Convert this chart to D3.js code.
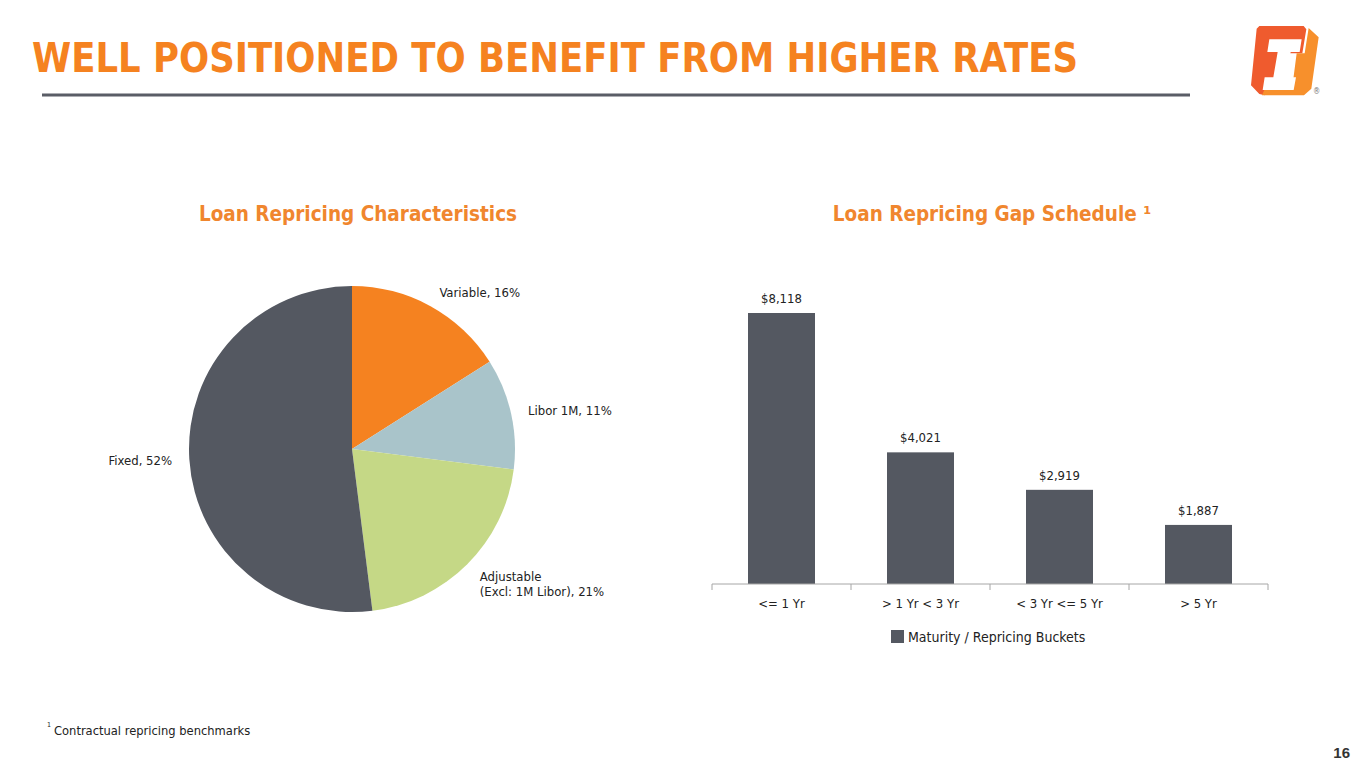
<!DOCTYPE html>
<html>
<head>
<meta charset="utf-8">
<script src="https://cdn.jsdelivr.net/npm/d3@7"></script>
<style>
  body { margin: 0; background: #fff; }
  text { font-family: "DejaVu Sans Condensed", "DejaVu Sans", sans-serif; }
</style>
</head>
<body>
<script>
// Canvas size
const width = 1365;
const height = 768;

// Pie data: loan repricing characteristics (percent)
const pieLabels = ["Variable, 16%", "Libor 1M, 11%", "Adjustable\n(Excl: 1M Libor), 21%", "Fixed, 52%"];
const pieValues = [16, 11, 21, 52];
const pieColors = ["#F58220", "#A9C4CA", "#C5D886", "#545861"];

// Bar data: loan repricing gap schedule ($M)
const barCategories = ["<= 1 Yr", "> 1 Yr < 3 Yr", "< 3 Yr <= 5 Yr", "> 5 Yr"];
const barValues = [8118, 4021, 2919, 1887];
const legendLabel = "Maturity / Repricing Buckets";

const orange = "#F58220";
const darkGray = "#545861";

const svg = d3.select("body")
  .append("svg")
  .attr("width", width)
  .attr("height", height);

// ---- header ----
svg.append("text")
  .attr("x", 32)
  .attr("y", 72)
  .attr("textLength", 1046)
  .attr("lengthAdjust", "spacingAndGlyphs")
  .attr("fill", orange)
  .style("font-size", "41px")
  .style("font-weight", "bold")
  .text("WELL POSITIONED TO BENEFIT FROM HIGHER RATES");

svg.append("line")
  .attr("x1", 42).attr("x2", 1190)
  .attr("y1", 95).attr("y2", 95)
  .attr("stroke", "#5A5D66")
  .attr("stroke-width", 3);

// logo (drawn in a 3x grid, then scaled down)
const logo = svg.append("g").attr("transform", "translate(1236,20) scale(0.3333)");
logo.append("path")
  .attr("fill", "#EF5B2E")
  .attr("d", "M70,18 L203,18 L211,28 L199,100 L160,100 L146,176 L96,176 L86,226 L70,222 L45,196 L62,26 Z");
logo.append("path")
  .attr("fill", "#F7902C")
  .attr("d", "M218,24 L248,52 L226,206 L204,226 L78,226 L86,208 L168,208 L182,100 L206,100 Z");
logo.append("path")
  .attr("fill", "#fff")
  .attr("d", "M100,58 L197,58 L191,96 L164,96 L151,172 L180,172 L173,210 L80,210 L86,172 L112,172 L125,96 L94,96 Z");
svg.append("text")
  .attr("x", 1313)
  .attr("y", 94)
  .attr("fill", "#777")
  .style("font-size", "8px")
  .text("®");

// ---- pie chart ----
const cx = 352, cy = 449, radius = 163;

svg.append("text")
  .attr("x", 358)
  .attr("y", 221)
  .attr("text-anchor", "middle")
  .attr("fill", "#F0862E")
  .style("font-size", "20.5px")
  .style("font-weight", "bold")
  .text("Loan Repricing Characteristics");

const pie = d3.pie().sort(null).value((d) => d.value);
const slices = pie(pieValues.map((v, i) => ({ value: v, label: pieLabels[i], color: pieColors[i] })));

const arc = d3.arc().innerRadius(0).outerRadius(radius);
const labelArc = d3.arc().innerRadius(radius * 1.1).outerRadius(radius * 1.1);

const pieG = svg.append("g").attr("transform", `translate(${cx},${cy})`);

pieG.selectAll("path")
  .data(slices)
  .enter()
  .append("path")
  .attr("d", arc)
  .attr("fill", (d) => d.data.color);

pieG.selectAll("text")
  .data(slices)
  .enter()
  .append("text")
  .each(function (d) {
    const [lx, ly] = labelArc.centroid(d);
    const mid = (d.startAngle + d.endAngle) / 2;
    const t = d3.select(this)
      .attr("text-anchor", mid < Math.PI ? "start" : "end")
      .attr("fill", "#222")
      .style("font-size", "13px");
    d.data.label.split("\n").forEach((line, i) => {
      t.append("tspan")
        .attr("x", lx + (mid < Math.PI ? 1 : -1))
        .attr("y", ly + 5 + i * 15)
        .text(line);
    });
  });

// ---- bar chart ----
const plotLeft = 712, plotRight = 1268, plotBottom = 584;

svg.append("text")
  .attr("x", 992)
  .attr("y", 221)
  .attr("text-anchor", "middle")
  .attr("fill", "#F0862E")
  .style("font-size", "20.5px")
  .style("font-weight", "bold")
  .text("Loan Repricing Gap Schedule \u00B9");

const x = d3.scaleBand()
  .domain(barCategories)
  .range([plotLeft, plotRight])
  .paddingInner(0.518)
  .paddingOuter(0.259);

const y = d3.scaleLinear()
  .domain([150, d3.max(barValues)])
  .range([plotBottom, 313]);

const bars = barCategories.map((c, i) => ({ cat: c, value: barValues[i] }));

svg.append("g")
  .selectAll("rect")
  .data(bars)
  .enter()
  .append("rect")
  .attr("x", (d) => x(d.cat))
  .attr("y", (d) => y(d.value))
  .attr("width", x.bandwidth())
  .attr("height", (d) => plotBottom - y(d.value))
  .attr("fill", darkGray);

svg.append("g")
  .selectAll("text")
  .data(bars)
  .enter()
  .append("text")
  .attr("x", (d) => x(d.cat) + x.bandwidth() / 2)
  .attr("y", (d) => y(d.value) - 10)
  .attr("text-anchor", "middle")
  .attr("fill", "#222")
  .style("font-size", "13px")
  .text((d) => d3.format("$,")(d.value));

// axis line with ticks at band boundaries
const axisG = svg.append("g").attr("transform", `translate(0,${plotBottom})`);
axisG.append("line")
  .attr("x1", plotLeft).attr("x2", plotRight)
  .attr("stroke", "#A6A6A6");

const boundaries = barCategories.map((c) => x(c) - x.step() * x.paddingInner() / 2)
  .concat([plotRight]);
axisG.selectAll(".tick-mark")
  .data(boundaries)
  .enter()
  .append("line")
  .attr("class", "tick-mark")
  .attr("x1", (d) => d).attr("x2", (d) => d)
  .attr("y1", 0).attr("y2", 6)
  .attr("stroke", "#A6A6A6");

axisG.selectAll(".cat-label")
  .data(barCategories)
  .enter()
  .append("text")
  .attr("class", "cat-label")
  .attr("x", (d) => x(d) + x.bandwidth() / 2)
  .attr("y", 24)
  .attr("text-anchor", "middle")
  .attr("fill", "#222")
  .style("font-size", "13px")
  .text((d) => d);

// legend
svg.append("rect")
  .attr("x", 891).attr("y", 630)
  .attr("width", 13).attr("height", 13)
  .attr("fill", darkGray);
svg.append("text")
  .attr("x", 908)
  .attr("y", 642)
  .attr("fill", "#222")
  .style("font-size", "14px")
  .text(legendLabel);

// ---- footer ----
svg.append("text")
  .attr("x", 47)
  .attr("y", 727)
  .attr("fill", "#222")
  .style("font-size", "7px")
  .text("1");
svg.append("text")
  .attr("x", 54)
  .attr("y", 735)
  .attr("fill", "#222")
  .style("font-size", "12.8px")
  .text("Contractual repricing benchmarks");

svg.append("text")
  .attr("x", 1350)
  .attr("y", 758)
  .attr("text-anchor", "end")
  .attr("fill", "#333")
  .style("font-size", "15px")
  .style("font-weight", "bold")
  .style("font-family", "'Liberation Sans', Arial, sans-serif")
  .text("16");
</script>
</body>
</html>
